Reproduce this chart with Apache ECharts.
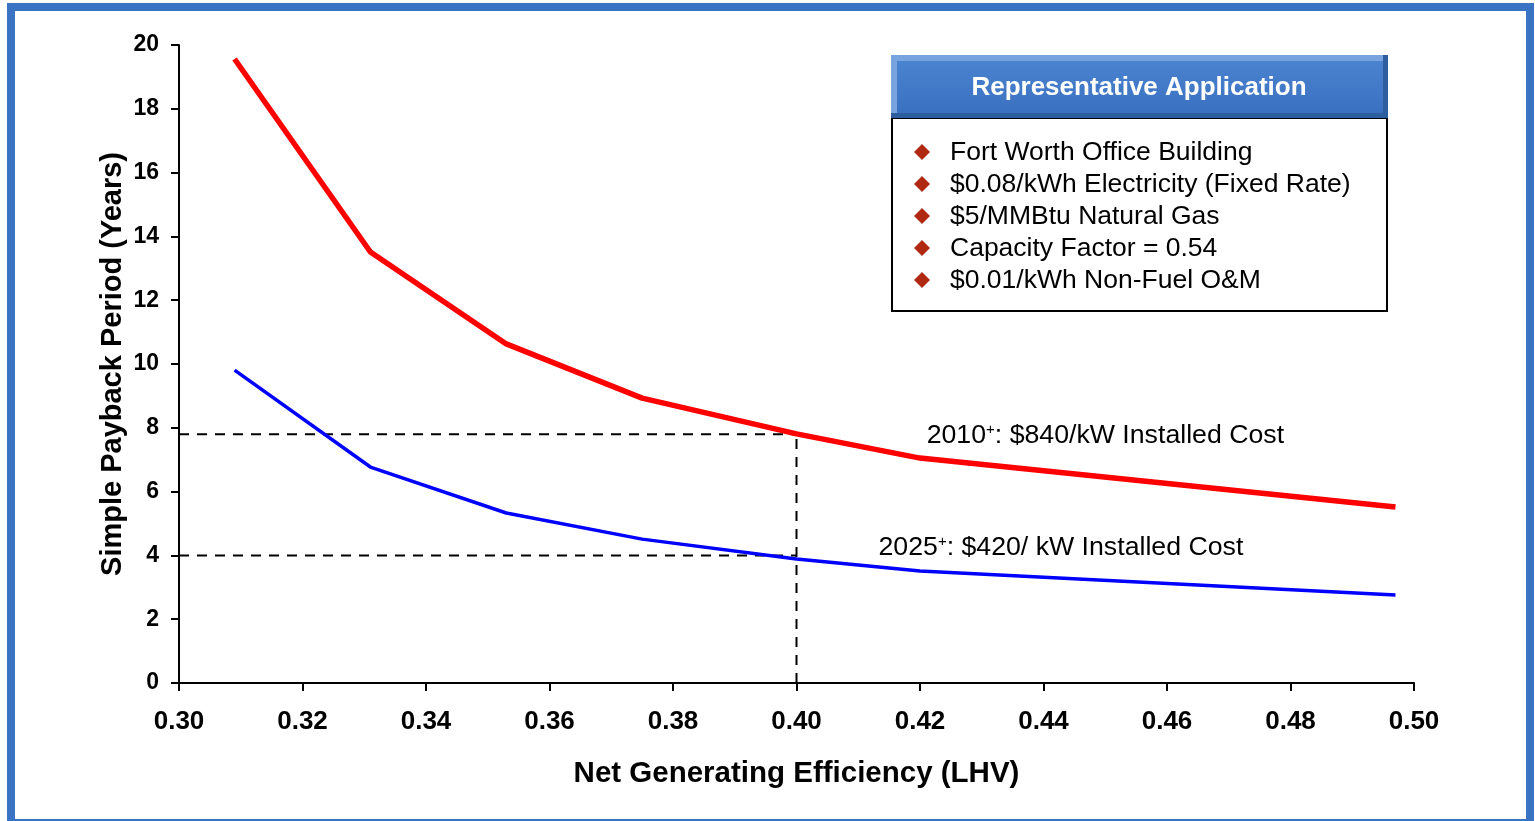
<!DOCTYPE html>
<html><head><meta charset="utf-8">
<script src="https://cdn.jsdelivr.net/npm/echarts@6/dist/echarts.min.js"></script>
<style>html,body{margin:0;padding:0;background:#fff}#c{width:1535px;height:821px}</style>
</head><body><div id="c"></div>
<script>
const efficiency = [0.309, 0.331, 0.353, 0.375, 0.400, 0.420, 0.497];
const payback2010 = [19.56, 13.51, 10.63, 8.93, 7.81, 7.05, 5.52];
const payback2025 = [9.81, 6.77, 5.33, 4.51, 3.89, 3.51, 2.76];
const guideX = 0.40;
const guideY2010 = 7.8;
const guideY2025 = 4.0;
const xTicks = ['0.30','0.32','0.34','0.36','0.38','0.40','0.42','0.44','0.46','0.48','0.50'];
const yTicks = [0,2,4,6,8,10,12,14,16,18,20];
const boxTitle = 'Representative Application';
const boxItems = ['Fort Worth Office Building','$0.08/kWh Electricity (Fixed Rate)','$5/MMBtu Natural Gas','Capacity Factor = 0.54','$0.01/kWh Non-Fuel O&M'];
const label2010 = ['2010','+',': $840/kW Installed Cost'];
const label2025 = ['2025','+',': $420/ kW Installed Cost'];
const labelPos2010 = [0.4210, 7.74];
const labelPos2025 = [0.4132, 4.24];

const chart = echarts.init(document.getElementById('c'), null, {renderer:'canvas'});
const FF = '"Liberation Sans", Arial, sans-serif';
const dashStyle = {color:'#000', width:2, type:[10,8]};
const annStyle = {fontFamily:FF, fontSize:26.7, color:'#000'};

const graphics = [
  {type:'rect', shape:{x:11,y:7,width:1519,height:816}, style:{fill:'none', stroke:'#3a73c3', lineWidth:8}, z:0},
  {type:'rect', shape:{x:892,y:118,width:495,height:193}, style:{fill:'#fff', stroke:'#000', lineWidth:2}, z:10},
  {type:'rect', shape:{x:891,y:55,width:497,height:63}, style:{fill:'#2c5e9f'}, z:11},
  {type:'rect', shape:{x:891,y:55,width:492,height:58}, style:{fill:'#79a3df'}, z:11},
  {type:'rect', shape:{x:897,y:61,width:486,height:52}, style:{fill:{type:'linear',x:0,y:0,x2:0,y2:1,colorStops:[{offset:0,color:'#4a83d0'},{offset:1,color:'#3a70c0'}]}}, z:12},
  {type:'text', x:1139, y:88, style:{text:boxTitle, fill:'#fff', font:'bold 26px '+FF, align:'center', verticalAlign:'middle', shadowColor:'rgba(0,0,0,0.5)', shadowOffsetX:1, shadowOffsetY:1, shadowBlur:1}, z:13}
];
boxItems.forEach((t,i)=>{
  const cy = 152 + i*32;
  graphics.push({type:'polygon', shape:{points:[[922,cy-8],[930,cy],[922,cy+8],[914,cy]]}, style:{fill:'#b02a12'}, z:13});
  graphics.push({type:'text', x:950, y:cy+1, style:{text:t, fill:'#000', font:'26.5px '+FF, align:'left', verticalAlign:'middle'}, z:13});
});

function annRich(parts){
  return '{a|'+parts[0]+'}{s|'+parts[1]+'}{a|'+parts[2]+'}';
}
const richDef = {a:annStyle, s:{fontFamily:FF, fontSize:15, color:'#000', verticalAlign:'top', padding:[0,0,12,0]}};

chart.setOption({
  animation:false,
  backgroundColor:'#fff',
  grid:{left:179, right:121, top:45, bottom:138},
  xAxis:{type:'value', min:0.30, max:0.50, interval:0.02,
    axisLine:{show:true, onZero:false, lineStyle:{color:'#000', width:2}},
    axisTick:{show:true, length:8, lineStyle:{color:'#000', width:2}},
    splitLine:{show:false},
    axisLabel:{margin:26, fontFamily:FF, fontSize:26, fontWeight:'bold', color:'#000',
      formatter:(v)=>{const s=v.toFixed(2); return xTicks.includes(s)?s:'';}},
    name:'Net Generating Efficiency (LHV)', nameLocation:'middle', nameGap:76, nameMoveOverlap:false,
    nameTextStyle:{fontFamily:FF, fontSize:29.5, fontWeight:'bold', color:'#000'}},
  yAxis:{type:'value', min:0, max:20, interval:2,
    axisLine:{show:true, lineStyle:{color:'#000', width:2}},
    axisTick:{show:true, length:8, lineStyle:{color:'#000', width:2}},
    splitLine:{show:false},
    axisLabel:{margin:20, fontFamily:FF, fontSize:23, fontWeight:'bold', color:'#000',
      formatter:(v)=> yTicks.includes(v)? String(v):''},
    name:'Simple Payback Period (Years)', nameLocation:'middle', nameGap:52, nameRotate:90, nameMoveOverlap:false,
    nameTextStyle:{fontFamily:FF, fontSize:29, fontWeight:'bold', color:'#000'}},
  graphic:graphics,
  series:[
    {type:'line', data:[[0.30,guideY2010],[guideX,guideY2010]], symbol:'none', lineStyle:dashStyle, z:1, silent:true},
    {type:'line', data:[[0.30,guideY2025],[guideX,guideY2025]], symbol:'none', lineStyle:dashStyle, z:1, silent:true},
    {type:'line', data:[[guideX,0],[guideX,guideY2010]], symbol:'none', lineStyle:dashStyle, z:1, silent:true},
    {type:'line', name:'2010', data:efficiency.map((x,i)=>[x,payback2010[i]]), symbol:'none',
      lineStyle:{color:'#ff0000', width:5.5}, z:3},
    {type:'line', name:'2025', data:efficiency.map((x,i)=>[x,payback2025[i]]), symbol:'none',
      lineStyle:{color:'#0000ff', width:3.5}, z:3},
    {type:'scatter', data:[labelPos2010], symbolSize:1, itemStyle:{color:'#fff', opacity:0}, z:4, silent:true,
      label:{show:true, position:'right', distance:0, color:'#000', opacity:1, formatter:annRich(label2010), rich:richDef}},
    {type:'scatter', data:[labelPos2025], symbolSize:1, itemStyle:{color:'#fff', opacity:0}, z:4, silent:true,
      label:{show:true, position:'right', distance:0, color:'#000', opacity:1, formatter:annRich(label2025), rich:richDef}}
  ]
});
</script></body></html>
